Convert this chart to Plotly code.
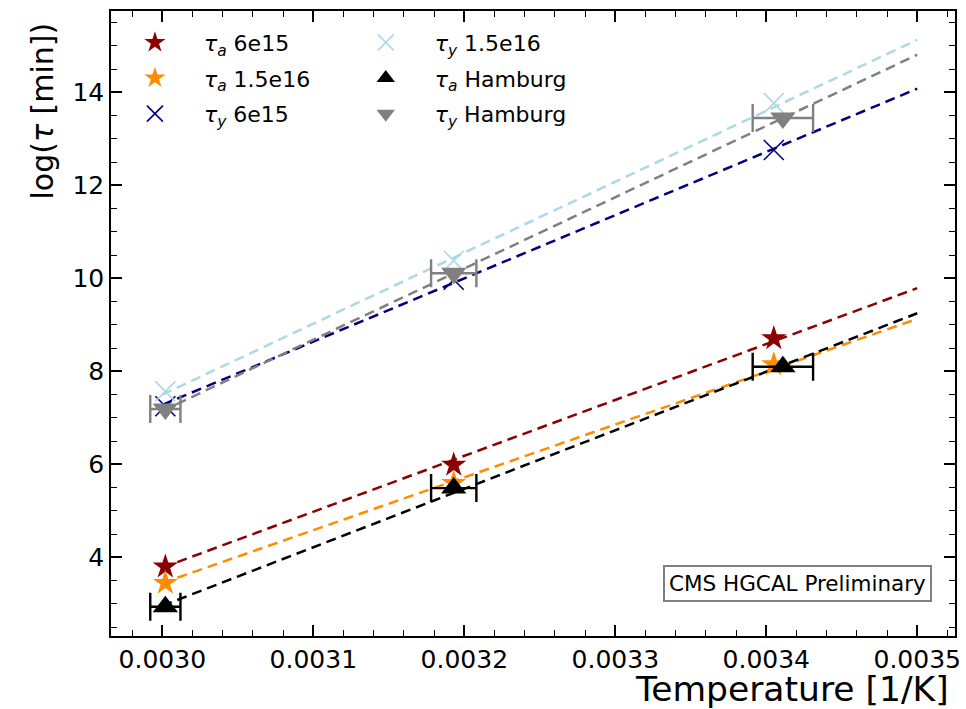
import plotly.graph_objects as go

# ---- data ----
x_meas = [0.003002, 0.003193, 0.003405]          # 1/T of own measurements
x_hamb = [0.003002, 0.003193, 0.003411]          # 1/T of Hamburg points
x_hamb_err = [1.0e-5, 1.5e-5, 2.0e-5]
fit_x = [0.0030, 0.0035]

tau_a_6e15 = [3.80, 5.99, 8.71]
tau_a_15e16 = [3.45, 5.60, 8.15]
tau_y_6e15 = [7.25, 9.97, 12.76]
tau_y_15e16 = [7.57, 10.38, 13.77]
tau_a_hamb = [2.94, 5.49, 8.10]
tau_y_hamb = [7.19, 10.11, 13.45]

fit_a_6e15 = [3.78, 9.79]
fit_a_15e16 = [3.45, 9.13]
fit_y_6e15 = [7.28, 14.08]
fit_y_15e16 = [7.50, 15.13]
fit_a_hamb = [2.96, 9.25]
fit_y_hamb = [7.15, 14.81]

FONT = "DejaVu Sans"
fig = go.Figure()

fits = [
    (fit_a_6e15, "#8B0000"),
    (fit_a_15e16, "#FF8C00"),
    (fit_y_6e15, "#000080"),
    (fit_y_15e16, "#ADD8E6"),
    (fit_a_hamb, "#000000"),
    (fit_y_hamb, "#808080"),
]
for fy, c in fits:
    fig.add_trace(go.Scatter(x=fit_x, y=fy, mode="lines", showlegend=False,
                             line=dict(color=c, width=2.5, dash="10px,6px"),
                             hoverinfo="skip"))

pts = [
    (x_meas, tau_a_6e15, "<i>τ<sub>a</sub></i> 6e15", "#8B0000", "star", 19, "legend", None),
    (x_meas, tau_a_15e16, "<i>τ<sub>a</sub></i> 1.5e16", "#FF8C00", "star", 19, "legend", None),
    (x_meas, tau_y_6e15, "<i>τ<sub>y</sub></i> 6e15", "#000080", "x-thin-open", 20, "legend", None),
    (x_meas, tau_y_15e16, "<i>τ<sub>y</sub></i> 1.5e16", "#ADD8E6", "x-thin-open", 20, "legend2", None),
    (x_hamb, tau_a_hamb, "<i>τ<sub>a</sub></i> Hamburg", "#000000", "triangle-up", 22, "legend2", x_hamb_err),
    (x_hamb, tau_y_hamb, "<i>τ<sub>y</sub></i> Hamburg", "#808080", "triangle-down", 22, "legend2", x_hamb_err),
]
for i, (xs, ys, name, c, sym, sz, lg, err) in enumerate(pts):
    marker = dict(symbol=sym, size=sz, color=c)
    if sym.startswith("x-thin"):
        marker["line"] = dict(color=c, width=1.6)
    else:
        marker["line"] = dict(width=0)
    kw = {}
    if err is not None:
        kw["error_x"] = dict(type="data", array=err, visible=True, color=c,
                             thickness=2.4, width=14)
    fig.add_trace(go.Scatter(x=xs, y=ys, mode="markers", name=name, marker=marker,
                             legend=lg, legendgroup=f"g{i}", **kw))

axis_common = dict(showline=True, linecolor="black", linewidth=1.5, mirror="allticks",
                   ticks="inside", ticklen=11, tickwidth=1.5, tickcolor="black",
                   showgrid=False, zeroline=False, automargin=False,
                   tickfont=dict(family=FONT, size=25, color="black"))

fig.update_xaxes(range=[0.002966, 0.003525], tick0=0.003, dtick=0.0001, tickformat=".4f",
                 minor=dict(ticks="inside", ticklen=6, tickwidth=1, tickcolor="black",
                            dtick=0.00002, tick0=0.003, showgrid=False),
                 **axis_common)
fig.update_yaxes(range=[2.31, 15.75], tick0=0, dtick=2,
                 minor=dict(ticks="inside", ticklen=6, tickwidth=1, tickcolor="black",
                            dtick=0.5, tick0=0, showgrid=False),
                 **axis_common)

leg_common = dict(font=dict(family=FONT, size=22, color="black"), bgcolor="rgba(0,0,0,0)",
                  borderwidth=0, xanchor="left", yanchor="top", tracegroupgap=4,
                  itemwidth=88)
fig.update_layout(
    width=966, height=709,
    margin=dict(l=111, r=11, t=11, b=73),
    paper_bgcolor="white", plot_bgcolor="white",
    font=dict(family=FONT, color="black"),
    legend=dict(x=-0.006, y=0.983, **leg_common),
    legend2=dict(x=0.2675, y=0.983, **leg_common),
    annotations=[
        dict(text="CMS HGCAL Preliminary", xref="paper", yref="paper",
             x=0.9727, y=0.0544, xanchor="right", yanchor="bottom", showarrow=False,
             font=dict(family=FONT, size=21.5, color="black"),
             bordercolor="#808080", borderwidth=2, borderpad=4, bgcolor="white"),
        dict(text="Temperature [1/K]", xref="paper", yref="paper",
             x=0.995, y=-0.0845, xanchor="right", yanchor="middle", showarrow=False,
             font=dict(family=FONT, size=34.5, color="black")),
        dict(text="log(<i>τ</i> [min])", xref="paper", yref="paper",
             x=-0.0806, y=0.9856, xanchor="center", yanchor="top", textangle=-90,
             showarrow=False, font=dict(family=FONT, size=30, color="black")),
    ],
)

fig.write_html("out.html")
